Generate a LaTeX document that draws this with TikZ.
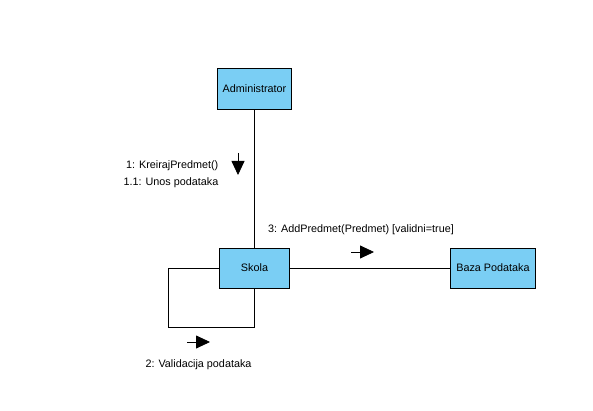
\documentclass[tikz,border=0pt]{standalone}
\usepackage{fontspec}
\setmainfont{Liberation Sans}
\usepackage{tikz}
\usetikzlibrary{arrows.meta,positioning}
\usepackage{xcolor}
\definecolor{objfill}{HTML}{7ACEF4}

\tikzset{
  objbox/.style={draw=black, fill=objfill, line width=0.9pt, minimum height=40pt, inner sep=2pt, font=\fontsize{10.8}{12}\selectfont},
  link/.style={draw=black, line width=0.8pt},
  msgarrow/.style={draw=black, line width=0.8pt, -{Triangle[length=14pt, width=13pt]}},
  msglabel/.style={inner sep=0pt, font=\fontsize{10.8}{16.5}\selectfont}
}

\begin{document}
\begin{tikzpicture}[x=1pt, y=-1pt]
  \useasboundingbox (0,0) rectangle (593,411);

  % objects
  \node[objbox, minimum width=74pt, minimum height=41pt] (admin) at (254.5,89) {Administrator};
  \node[objbox, minimum width=70pt] (skola) at (254.5,268) {Skola};
  \node[objbox, minimum width=85pt] (baza) at (493,268) {Baza Podataka};

  % links
  \draw[link] (admin.south) -- (skola.north);
  \draw[link] (skola.east) -- (baza.west);
  \coordinate (loopcorner) at (168.5,327);
  \draw[link] (skola.west) -| (loopcorner) -| (skola.south);

  % messages
  \coordinate (m1a) at (238,153);
  \coordinate (m1b) at (238,175);
  \draw[msgarrow] (m1a) -- (m1b);
  \node[msglabel, anchor=east, align=right] (lbl1) at (218.5,174) {1: KreirajPredmet()\\1.1: Unos podataka};

  \coordinate (m2a) at (187,342);
  \coordinate (m2b) at (210,342);
  \draw[msgarrow] (m2a) -- (m2b);
  \node[msglabel] (lbl2) at (198.5,365) {2: Validacija podataka};

  \coordinate (m3a) at (351,252);
  \coordinate (m3b) at (374,252);
  \draw[msgarrow] (m3a) -- (m3b);
  \node[msglabel, anchor=west] (lbl3) at (268,230) {3: AddPredmet(Predmet) [validni=true]};
\end{tikzpicture}
\end{document}
